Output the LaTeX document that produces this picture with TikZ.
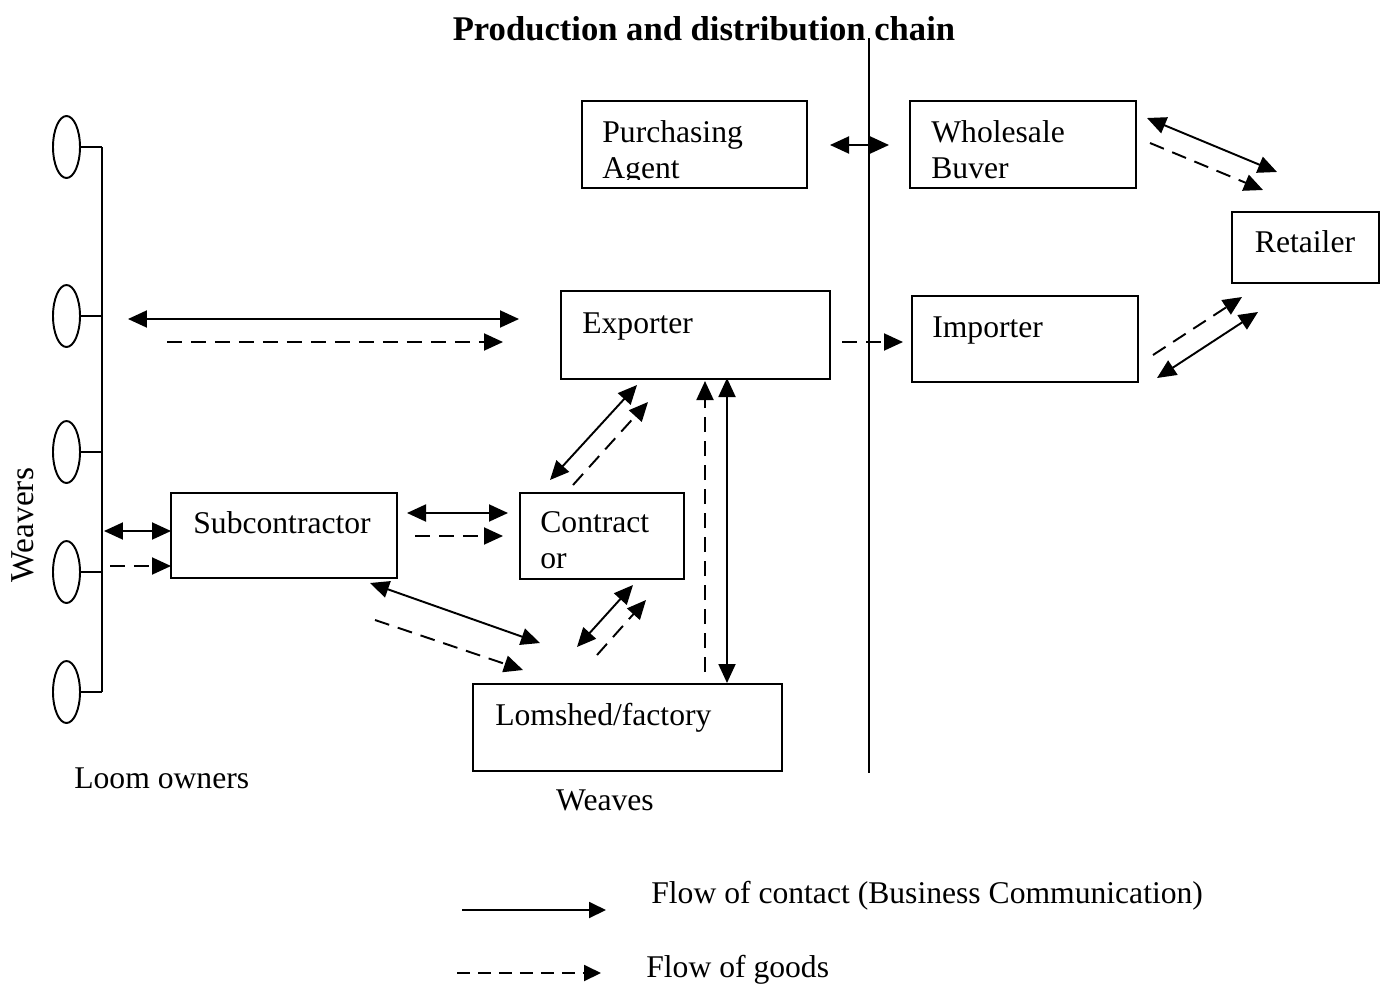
\documentclass[tikz,border=0pt]{standalone}
\usepackage{fontspec}
\setmainfont{Liberation Serif}
\usetikzlibrary{arrows.meta,shapes.geometric}

\begin{document}
\begin{tikzpicture}[
  x=0.02cm, y=-0.02cm,
  box/.style={draw, line width=1.1pt, inner sep=0pt},
  txt/.style={inner sep=0pt, font=\fontsize{18}{20.4}\selectfont, align=left},
  loom/.style={draw, ellipse, line width=1.1pt, minimum width=0.54cm, minimum height=1.24cm, inner sep=0pt},
  link/.style={line width=1.1pt},
  both/.style={link, {Triangle[length=0.38cm,width=0.34cm]}-{Triangle[length=0.38cm,width=0.34cm]}},
  contact/.style={link, -{Triangle[length=0.34cm,width=0.32cm]}},
  goods/.style={link, -{Triangle[length=0.38cm,width=0.34cm]}, dash pattern=on 0.3cm off 0.18cm},
]
  \useasboundingbox (0,0) rectangle (1386,984);

  % Title and border line
  \node[inner sep=0pt, anchor=base, font=\fontsize{19.7}{22}\selectfont\bfseries] (title) at (704,40) {Production and distribution chain};
  \coordinate (dv1) at (869,38);
  \coordinate (dv2) at (869,773);
  \draw[link] (dv1) -- (dv2);

  % Boxes
  \node[box, minimum width=4.5cm, minimum height=1.74cm] (pa) at (694.5,144.5) {};
  \node[box, minimum width=4.52cm, minimum height=1.74cm] (wb) at (1023,144.5) {};
  \node[box, minimum width=2.94cm, minimum height=1.42cm] (ret) at (1305.5,247.5) {};
  \node[box, minimum width=5.38cm, minimum height=1.76cm] (exp) at (695.5,335) {};
  \node[box, minimum width=4.52cm, minimum height=1.72cm] (imp) at (1025,339) {};
  \node[box, minimum width=4.52cm, minimum height=1.70cm] (sub) at (284,535.5) {};
  \node[box, minimum width=3.28cm, minimum height=1.72cm] (con) at (602,536) {};
  \node[box, minimum width=6.18cm, minimum height=1.74cm] (lom) at (627.5,727.5) {};

  % Box texts
  \begin{scope}
    \clip (590,105) rectangle (1130,179);
    \node[txt, anchor=north west] (pat) at (602,120) {Purchasing\\Agent};
    \node[txt, anchor=north west] (wbt) at (931,120) {Wholesale\\Buver};
  \end{scope}
  \node[txt, anchor=base] (rett) at (1305,252) {Retailer};
  \node[txt, anchor=base west] (expt) at (582,333) {Exporter};
  \node[txt, anchor=base west] (impt) at (932,337) {Importer};
  \node[txt, anchor=base west] (subt) at (193,533) {Subcontractor};
  \node[txt, anchor=north west] (cont) at (540,511) {Contract\\or};
  \node[txt, anchor=base west] (lomt) at (495,725) {Lomshed/factory};

  % Loom owners
  \foreach \i/\y in {1/147, 2/316, 3/452, 4/572, 5/692} {
    \node[loom] (w\i) at (66.5,\y) {};
    \coordinate (b\i) at (102,\y);
    \draw[link] (w\i.east) -- (b\i);
  }
  \draw[link] (b1) -- (b5);
  \node[txt, anchor=base, rotate=90, font=\fontsize{19}{22}\selectfont] (weavers) at (33,525) {Weavers};
  \node[txt, anchor=base west] (owners) at (74,788) {Loom owners};
  \node[txt, anchor=base] (weaves) at (605,810) {Weaves};

  % Arrow end points
  \coordinate (p1) at (830,145);   \coordinate (p2) at (889,145);
  \coordinate (r1) at (1147,118);  \coordinate (r2) at (1277,172);
  \coordinate (r3) at (1150,143);  \coordinate (r4) at (1263,190);
  \coordinate (e1) at (842,342);   \coordinate (e2) at (903,342);
  \coordinate (r5) at (1153,355);  \coordinate (r6) at (1242,297);
  \coordinate (r7) at (1157,378);  \coordinate (r8) at (1258,312);
  \coordinate (x1) at (128,319);   \coordinate (x2) at (519,319);
  \coordinate (x3) at (167,342);   \coordinate (x4) at (503,342);
  \coordinate (s1) at (104,531);   \coordinate (s2) at (171,531);
  \coordinate (s3) at (110,566);   \coordinate (s4) at (171,566);
  \coordinate (c1) at (407,513);   \coordinate (c2) at (508,513);
  \coordinate (c3) at (415,536);   \coordinate (c4) at (503,536);
  \coordinate (k1) at (550,480);   \coordinate (k2) at (637,385);
  \coordinate (k3) at (573,485);   \coordinate (k4) at (648,402);
  \coordinate (l1) at (370,583);   \coordinate (l2) at (540,643);
  \coordinate (l3) at (375,620);   \coordinate (l4) at (523,670);
  \coordinate (m1) at (577,647);   \coordinate (m2) at (633,585);
  \coordinate (m3) at (597,655);   \coordinate (m4) at (646,600);
  \coordinate (f1) at (705,672);   \coordinate (f2) at (705,381);
  \coordinate (f3) at (727,378);   \coordinate (f4) at (727,683);

  % Flows
  \draw[both] (p1) -- (p2);
  \draw[both] (r1) -- (r2);
  \draw[goods] (r3) -- (r4);
  \draw[goods] (e1) -- (e2);
  \draw[goods] (r5) -- (r6);
  \draw[both] (r7) -- (r8);
  \draw[both] (x1) -- (x2);
  \draw[goods] (x3) -- (x4);
  \draw[both] (s1) -- (s2);
  \draw[goods] (s3) -- (s4);
  \draw[both] (c1) -- (c2);
  \draw[goods] (c3) -- (c4);
  \draw[both] (k1) -- (k2);
  \draw[goods] (k3) -- (k4);
  \draw[both] (l1) -- (l2);
  \draw[goods] (l3) -- (l4);
  \draw[both] (m1) -- (m2);
  \draw[goods] (m3) -- (m4);
  \draw[goods] (f1) -- (f2);
  \draw[both] (f3) -- (f4);

  % Legend
  \coordinate (lg1) at (462,910);  \coordinate (lg2) at (606,910);
  \coordinate (lg3) at (457,973);  \coordinate (lg4) at (601,973);
  \draw[contact] (lg1) -- (lg2);
  \draw[goods, -{Triangle[length=0.34cm,width=0.32cm]}, dash pattern=on 0.26cm off 0.16cm] (lg3) -- (lg4);
  \node[txt, anchor=base west] (lgt1) at (651,903) {Flow of contact (Business Communication)};
  \node[txt, anchor=base west] (lgt2) at (646,977) {Flow of goods};
\end{tikzpicture}
\end{document}
